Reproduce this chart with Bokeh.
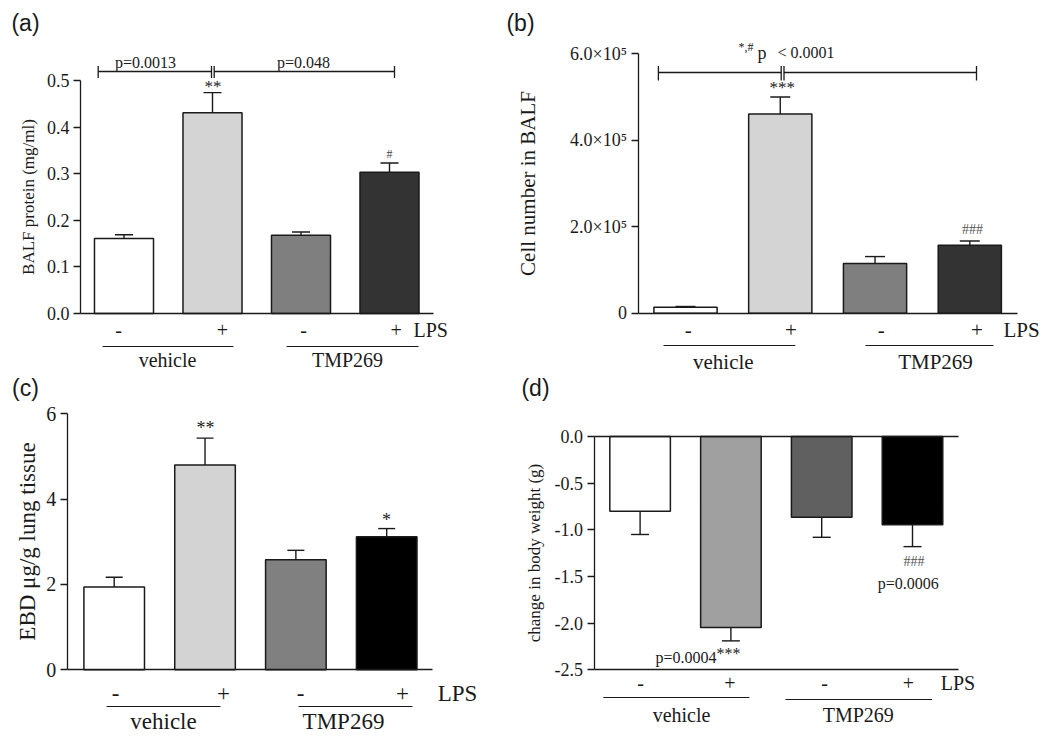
import numpy as np
from bokeh.plotting import figure
from bokeh.models import LinearAxis, FixedTicker, ColumnDataSource, Whisker, TeeHead, PrintfTickFormatter
from bokeh.layouts import column, row
from bokeh.embed import file_html
from bokeh.resources import INLINE
from bokeh.core.properties import value

# ---------------- data ----------------
bar_x = [1, 2, 3, 4]
lps_marks = ["-", "+", "-", "+"]
groups = ["vehicle", "TMP269"]

a_mean = [0.161, 0.431, 0.168, 0.303]
a_sem = [0.008, 0.043, 0.007, 0.020]
a_colors = ["#ffffff", "#d4d4d4", "#7f7f7f", "#333333"]
a_ticks = [0.0, 0.1, 0.2, 0.3, 0.4, 0.5]

b_mean = [14000, 461000, 115000, 157000]
b_sem = [1500, 39000, 16000, 10000]
b_colors = ["#ffffff", "#d4d4d4", "#7f7f7f", "#333333"]
b_ticks = [0, 200000, 400000, 600000]
b_tick_labels = ["0", "2.0×10⁵", "4.0×10⁵", "6.0×10⁵"]

c_mean = [1.94, 4.80, 2.58, 3.12]
c_sem = [0.23, 0.63, 0.22, 0.19]
c_colors = ["#ffffff", "#d3d3d3", "#808080", "#000000"]
c_ticks = [0, 2, 4, 6]

d_mean = [-0.80, -2.046, -0.864, -0.946]
d_sem = [0.25, 0.144, 0.216, 0.234]
d_colors = ["#ffffff", "#a0a0a0", "#606060", "#000000"]
d_ticks = [0.0, -0.5, -1.0, -1.5, -2.0, -2.5]

SERIF = "Liberation Serif"
SANS = "Liberation Sans"
INK = "#1a1a1a"

WL, WR, HT, HB = 498, 550, 374, 364


def make_panel(ox, oy, W, H, px1, px4, ya, pya, yb, pyb):
    sx = (px4 - px1) / 3.0
    x0 = 1 - (px1 - ox) / sx
    x1 = x0 + W / sx
    sy = (pya - pyb) / (yb - ya)
    ytop = ya + (pya - oy) / sy
    ybot = ytop - H / sy
    p = figure(width=W, height=H, x_range=(x0, x1), y_range=(ybot, ytop),
               x_axis_type=None, y_axis_type=None, toolbar_location=None,
               output_backend="svg", outline_line_color=None)
    p.min_border_left = p.min_border_right = p.min_border_top = p.min_border_bottom = 0
    p.xgrid.visible = False
    p.ygrid.visible = False
    p.background_fill_color = "white"
    p.border_fill_color = "white"
    X = lambda px: x0 + (px - ox) / sx
    Y = lambda py: ytop - (py - oy) / sy
    return p, X, Y


def txt(p, X, Y, px, py, s, size, align="center", font=SERIF, color=INK):
    p.text(x=[X(px)], y=[Y(py)], text=[s], text_font=value(font),
           text_font_size=value(f"{size}px"), text_align=align,
           text_baseline="middle", text_color=color)


def seg(p, X, Y, px0, py0, px1, py1, w=1.3):
    p.segment(x0=[X(px0)], y0=[Y(py0)], x1=[X(px1)], y1=[Y(py1)],
              line_color=INK, line_width=w)


def yaxis(p, loc, bounds, ticks, label, label_size, tick_size, standoff,
          fmt=None, overrides=None):
    ax = LinearAxis(fixed_location=loc, bounds=bounds, ticker=FixedTicker(ticks=ticks))
    if fmt:
        ax.formatter = PrintfTickFormatter(format=fmt)
    if overrides:
        ax.major_label_overrides = overrides
    ax.axis_label = label
    ax.axis_label_text_font = SERIF
    ax.axis_label_text_font_style = "normal"
    ax.axis_label_text_font_size = f"{label_size}px"
    ax.axis_label_text_color = INK
    ax.axis_label_standoff = standoff
    ax.major_label_text_font = SERIF
    ax.major_label_text_font_size = f"{tick_size}px"
    ax.major_label_text_color = INK
    ax.major_label_standoff = 4
    ax.major_tick_out = 7
    ax.major_tick_in = 0
    ax.minor_tick_out = 0
    ax.minor_tick_in = 0
    ax.axis_line_color = INK
    ax.axis_line_width = 1.3
    ax.major_tick_line_color = INK
    ax.major_tick_line_width = 1.3
    p.add_layout(ax, "left")


def xaxis(p, loc, bounds):
    ax = LinearAxis(fixed_location=loc, bounds=bounds, ticker=FixedTicker(ticks=[]))
    ax.major_tick_out = 0
    ax.major_tick_in = 0
    ax.minor_tick_out = 0
    ax.minor_tick_in = 0
    ax.major_label_text_font_size = "0px"
    ax.axis_line_color = INK
    ax.axis_line_width = 1.3
    p.add_layout(ax, "below")


def bars(p, mean, sem, colors, down=False, cap=18):
    upper = [m + s for m, s in zip(mean, sem)]
    lower = [m - s for m, s in zip(mean, sem)]
    src = ColumnDataSource(dict(x=bar_x, top=mean, color=colors, upper=upper, lower=lower))
    if down:
        w = Whisker(base="x", upper="top", lower="lower", source=src, dimension="height",
                    line_color=INK, line_width=1.4, upper_head=None,
                    lower_head=TeeHead(size=cap, line_color=INK, line_width=1.4))
    else:
        w = Whisker(base="x", lower="top", upper="upper", source=src, dimension="height",
                    line_color=INK, line_width=1.4, lower_head=None,
                    upper_head=TeeHead(size=cap, line_color=INK, line_width=1.4))
    p.add_layout(w)
    p.vbar(x="x", top="top", bottom=0, width=0.667, source=src, fill_color="color",
           line_color=INK, line_width=1.5)


def group_labels(p, X, Y, marks_px, marks_y, lps_px, lps_align, line_specs,
                 label_px, label_y, size):
    for m, px in zip(lps_marks, marks_px):
        txt(p, X, Y, px, marks_y, m, size)
    txt(p, X, Y, lps_px, marks_y, "LPS", size, align=lps_align)
    for (a, b, yy) in line_specs:
        seg(p, X, Y, a, yy, b, yy, w=1.2)
    for g, px in zip(groups, label_px):
        txt(p, X, Y, px, label_y, g, size)


# ---------------- panel (a) ----------------
pa, Xa, Ya = make_panel(0, 0, WL, HT, 123.5, 389.0, 0.0, 313.0, 0.5, 80.0)
bars(pa, a_mean, a_sem, a_colors, cap=18)
yaxis(pa, Xa(80), (0, 0.5), a_ticks, "BALF protein (mg/ml)", 17, 18, 6, fmt="%.1f")
xaxis(pa, 0, (Xa(80), Xa(433)))
for (l, r) in [(97.7, 211.0), (213.7, 394.0)]:
    seg(pa, Xa, Ya, l, 71, r, 71)
    seg(pa, Xa, Ya, l, 65.5, l, 77.5)
    seg(pa, Xa, Ya, r, 65.5, r, 77.5)
txt(pa, Xa, Ya, 145, 62, "p=0.0013", 16)
txt(pa, Xa, Ya, 303, 62, "p=0.048", 16)
txt(pa, Xa, Ya, 212.5, 86, "**", 17)
txt(pa, Xa, Ya, 389, 153, "#", 12, color="#444")
group_labels(pa, Xa, Ya, [118, 222, 303, 395.7], 329, 413, "left",
             [(102, 233, 346), (286, 418, 346)], [167, 347], 359, 20)
txt(pa, Xa, Ya, 25, 22, "(a)", 23, font=SANS)

# ---------------- panel (b) ----------------
pb, Xb, Yb = make_panel(WL, 0, WR, HT, 685.0, 969.3, 0.0, 312.7, 600000.0, 53.3)
bars(pb, b_mean, b_sem, b_colors, cap=20)
yaxis(pb, Xb(637.5), (0, 600000), b_ticks, "Cell number in BALF", 21, 18, 28,
      overrides={t: s for t, s in zip(b_ticks, b_tick_labels)})
xaxis(pb, 0, (Xb(637.5), Xb(1016.5)))
for (l, r) in [(657.9, 780.7), (783.5, 976.0)]:
    seg(pb, Xb, Yb, l, 72, r, 72)
    seg(pb, Xb, Yb, l, 65.5, l, 80)
    seg(pb, Xb, Yb, r, 65.5, r, 80)
txt(pb, Xb, Yb, 738, 46, "*,#", 12, align="left")
txt(pb, Xb, Yb, 757, 52, "p", 18, align="left")
txt(pb, Xb, Yb, 777, 52, "< 0.0001", 16, align="left")
txt(pb, Xb, Yb, 781.8, 87, "***", 17)
txt(pb, Xb, Yb, 972, 229, "###", 14, color="#555")
group_labels(pb, Xb, Yb, [687.7, 790.5, 880.7, 976.5], 329, 1003, "left",
             [(663, 794.7, 345), (865, 993, 345)], [722.8, 935], 361, 21)
txt(pb, Xb, Yb, 520, 22, "(b)", 23, font=SANS)

# ---------------- panel (c) ----------------
pc, Xc, Yc = make_panel(0, HT, WL, HB, 113.7, 386.2, 0.0, 669.3, 6.0, 413.3)
bars(pc, c_mean, c_sem, c_colors, cap=17)
yaxis(pc, Xc(66.7), (0, 6), c_ticks, "EBD μg/g lung tissue", 23, 20, 4, fmt="%d")
xaxis(pc, 0, (Xc(66.7), Xc(432)))
txt(pc, Xc, Yc, 205, 427, "**", 18)
txt(pc, Xc, Yc, 386, 519, "*", 18)
group_labels(pc, Xc, Yc, [115, 223, 300, 402], 693, 457, "center",
             [(106, 220, 706), (298, 412, 706)], [163, 343], 721, 23)
txt(pc, Xc, Yc, 25, 387, "(c)", 23, font=SANS)

# ---------------- panel (d) ----------------
pd_, Xd, Yd = make_panel(WL, HT, WR, HB, 639.6, 912.0, 0.0, 436.0, -2.5, 669.3)
bars(pd_, d_mean, d_sem, d_colors, down=True, cap=18)
yaxis(pd_, Xd(593.6), (-2.5, 0), d_ticks, "change in body weight (g)", 17, 18, 8, fmt="%.1f")
xaxis(pd_, -2.5, (Xd(593.6), Xd(958)))
xaxis(pd_, 0, (Xd(593.6), Xd(958)))
txt(pd_, Xd, Yd, 716, 657, "p=0.0004", 16, align="right")
txt(pd_, Xd, Yd, 716, 653, "***", 16, align="left")
txt(pd_, Xd, Yd, 913.6, 561, "###", 14, color="#555")
txt(pd_, Xd, Yd, 907.8, 583, "p=0.0006", 16)
group_labels(pd_, Xd, Yd, [640, 729.5, 824, 907.8], 682, 957.5, "center",
             [(602.8, 749, 697), (785, 931.5, 699)], [681, 857.8], 714, 20)
txt(pd_, Xd, Yd, 535, 387, "(d)", 23, font=SANS)

layout = column(row(pa, pb), row(pc, pd_))
open("out.html", "w").write(file_html(layout, INLINE))
